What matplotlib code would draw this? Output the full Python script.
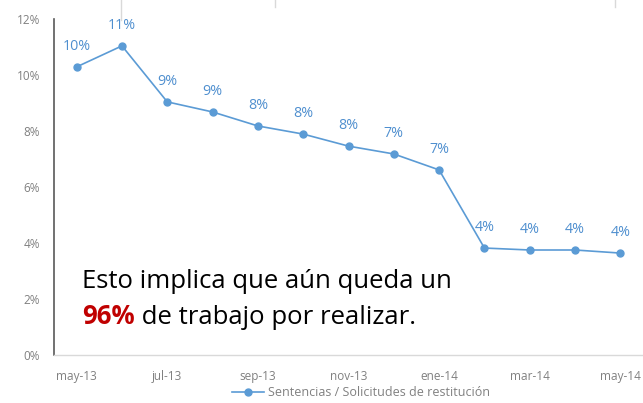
import matplotlib
matplotlib.use("Agg")
import matplotlib.pyplot as plt
from matplotlib.lines import Line2D

months = ["may-13", "jun-13", "jul-13", "ago-13", "sep-13", "oct-13", "nov-13",
          "dic-13", "ene-14", "feb-14", "mar-14", "abr-14", "may-14"]
values = [10.29, 11.04, 9.04, 8.68, 8.18, 7.89, 7.46, 7.18, 6.61, 3.82, 3.75, 3.75, 3.64]
labels = ["10%", "11%", "9%", "9%", "8%", "8%", "8%", "7%", "7%", "4%", "4%", "4%", "4%"]
yticks = [0, 2, 4, 6, 8, 10, 12]
series_name = "Sentencias / Solicitudes de restitución"

BLUE = "#5B9BD5"
GRAY = "#808080"
plt.rcParams['font.family'] = ['Open Sans', 'DejaVu Sans']

W, H = 643, 403
fig = plt.figure(figsize=(W / 100, H / 100), dpi=100)
ax = fig.add_axes([54 / W, 1 - 355 / H, (643 - 54) / W, (355 - 19) / H])

x = list(range(len(months)))
ax.plot(x, values, color=BLUE, lw=1.2, marker="o", ms=5, clip_on=False, zorder=3)
for xi, v, lab in zip(x, values, labels):
    ax.annotate(lab, (xi, v), xytext=(0, 15), textcoords="offset points",
                ha="center", va="center", color="#4F8FCF", fontsize=10.3)

ax.set_xlim(-0.5, 12.5)
ax.set_ylim(0, 12)
ax.set_yticks(yticks)
ax.set_yticklabels([f"{t}%" for t in yticks], color=GRAY, fontsize=8.5)
ax.set_xticks(x[::2])
ax.set_xticklabels(months[::2], color=GRAY, fontsize=8.5)
ax.tick_params(axis="y", length=0, pad=10)
ax.tick_params(axis="x", length=0, pad=11)
for s in ["top", "right"]:
    ax.spines[s].set_visible(False)
ax.spines["left"].set_color("#595959")
ax.spines["left"].set_linewidth(1.2)
ax.spines["bottom"].set_color("#D9D9D9")
ax.spines["bottom"].set_linewidth(1.0)

# annotation text
fig.text(82 / W, 1 - 281 / H, "Esto implica que aún queda un", fontsize=18.5,
         color="black", va="center", ha="left")
t = fig.text(82 / W, 1 - 316 / H, "96%", fontsize=18.5, color="#C00000",
             fontweight="bold", va="center", ha="left")
fig.canvas.draw()
ax.annotate(" de trabajo por realizar.", xy=(1, 0), xycoords=t, va="bottom",
            ha="left", fontsize=18.5, color="black", annotation_clip=False)

# legend
leg_handle = Line2D([], [], color=BLUE, lw=1.2, marker="o", ms=5)
fig.legend([leg_handle], [series_name], loc="center", bbox_to_anchor=(361 / W, 1 - 393 / H),
           frameon=False, fontsize=9, labelcolor=GRAY, handlelength=2.6,
           handletextpad=0.3)

# faint cropping artifacts at top
for xp, yl in [(121, 20), (275, 7), (615, 7)]:
    fig.add_artist(Line2D([xp / W, xp / W], [1, 1 - yl / H], color="#D9D9D9", lw=1))

fig.savefig("out.png", dpi=100)
